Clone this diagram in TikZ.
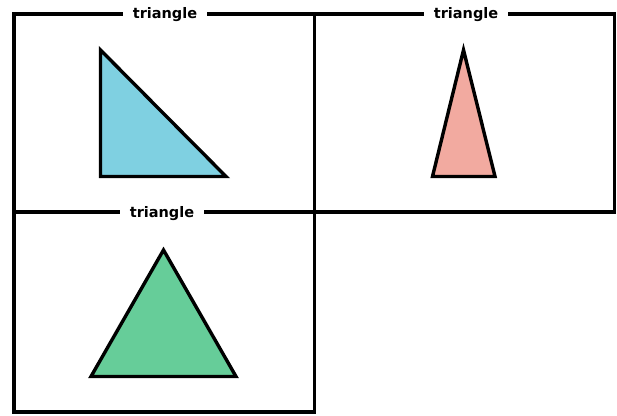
\documentclass[tikz,border=0pt]{standalone}
\usepackage{fontspec}
\setmainfont{DejaVu Sans}
\definecolor{triblue}{RGB}{127,208,225}
\definecolor{tripink}{RGB}{242,170,160}
\definecolor{trigreen}{RGB}{102,205,153}
\begin{document}
\begin{tikzpicture}[x=1pt,y=-1pt,
  panel/.style={draw=black,line width=3.6pt},
  tri/.style={draw=black,line width=3.4pt,line join=miter},
  ptitle/.style={fill=white,inner xsep=10pt,inner ysep=1pt,font=\bfseries\fontsize{14.5}{16}\selectfont}]
\useasboundingbox (0,0) rectangle (617,415);
% panels
\draw[panel] (14,14) rectangle (314.5,212);
\draw[panel] (314.5,14) rectangle (614.5,212);
\draw[panel] (14,212.5) rectangle (314.5,412);
% labels
\node[ptitle] (l1) at (165,14.5) {triangle};
\node[ptitle] (l2) at (466,14.5) {triangle};
\node[ptitle] (l3) at (162,214) {triangle};
% triangles
\draw[tri,fill=triblue] (100.5,50) -- (100.5,176.5) -- (226,176.5) -- cycle;
\draw[tri,fill=tripink] (463.5,50) -- (432.5,176.5) -- (495,176.5) -- cycle;
\draw[tri,fill=trigreen] (163.5,250) -- (91,376.5) -- (236,376.5) -- cycle;
\end{tikzpicture}
\end{document}
